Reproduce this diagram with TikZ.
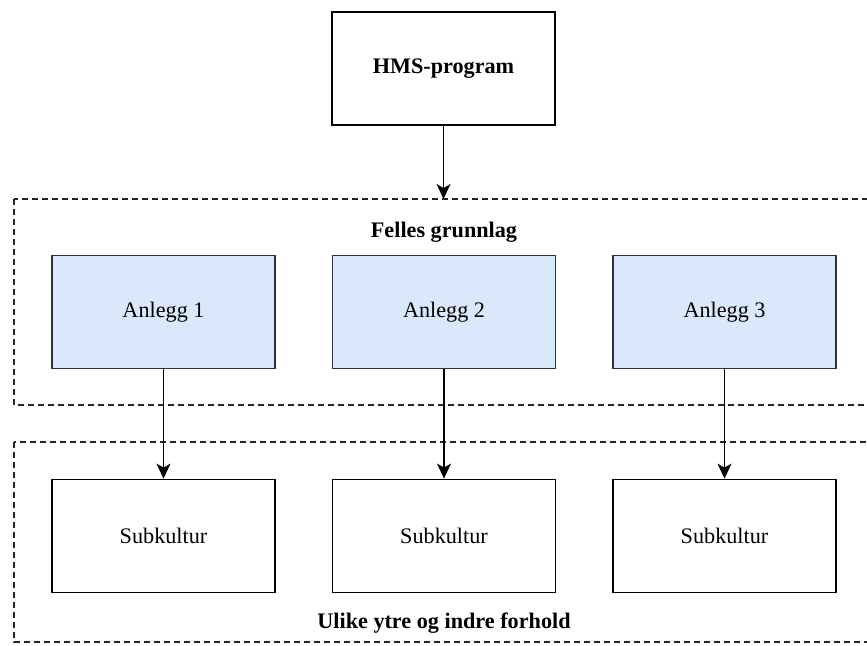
\documentclass[tikz,border=0pt]{standalone}
\usepackage{fontspec}
\setmainfont{Liberation Serif}
\usetikzlibrary{arrows.meta}
\definecolor{boxblue}{HTML}{DAE8FC}
\definecolor{edge}{HTML}{333333}
\tikzset{
  plainbox/.style={draw=black, line width=1.8pt, fill=white, minimum width=223pt,
    minimum height=113pt, inner sep=0pt, font=\fontsize{22.2}{25}\selectfont},
  sitebox/.style={plainbox, draw=edge, fill=boxblue},
  groupframe/.style={draw=black!85, line width=1.6pt, dash pattern=on 6pt off 4pt},
  flow/.style={draw=black, line width=1.4pt, -{Stealth[length=15pt, width=14pt, inset=4pt]}},
  heading/.style={font=\fontsize{22.2}{25}\selectfont\bfseries, anchor=base, inner sep=0pt}
}
\begin{document}
\begin{tikzpicture}[x=1pt, y=-1pt]
\useasboundingbox (0,0) rectangle (867,645);
\clip (0,0) rectangle (867,645);
% outer group frames (open to the right edge)
\draw[groupframe] (14,199) rectangle (890,405);
\draw[groupframe] (14,442) rectangle (890,642);
\coordinate (gtop) at (443.5,199);
% programme box
\node[plainbox, font=\fontsize{22.2}{25}\selectfont\bfseries] (hms) at (443.5,68.5) {HMS-program};
% group headings
\node[heading] (felles) at (444,237) {Felles grunnlag};
\node[heading] (ulike) at (444,628) {Ulike ytre og indre forhold};
% sites
\node[sitebox] (a1) at (163.5,312) {Anlegg 1};
\node[sitebox] (a2) at (444,312) {Anlegg 2};
\node[sitebox] (a3) at (724.5,312) {Anlegg 3};
% subcultures
\node[plainbox] (s1) at (163.5,536) {Subkultur};
\node[plainbox] (s2) at (444,536) {Subkultur};
\node[plainbox] (s3) at (724.5,536) {Subkultur};
% connectors
\draw[flow] (hms.south) -- (gtop);
\draw[flow] (a1.south) -- (s1.north);
\draw[flow] (a2.south) -- (s2.north);
\draw[flow] (a3.south) -- (s3.north);
\end{tikzpicture}
\end{document}
